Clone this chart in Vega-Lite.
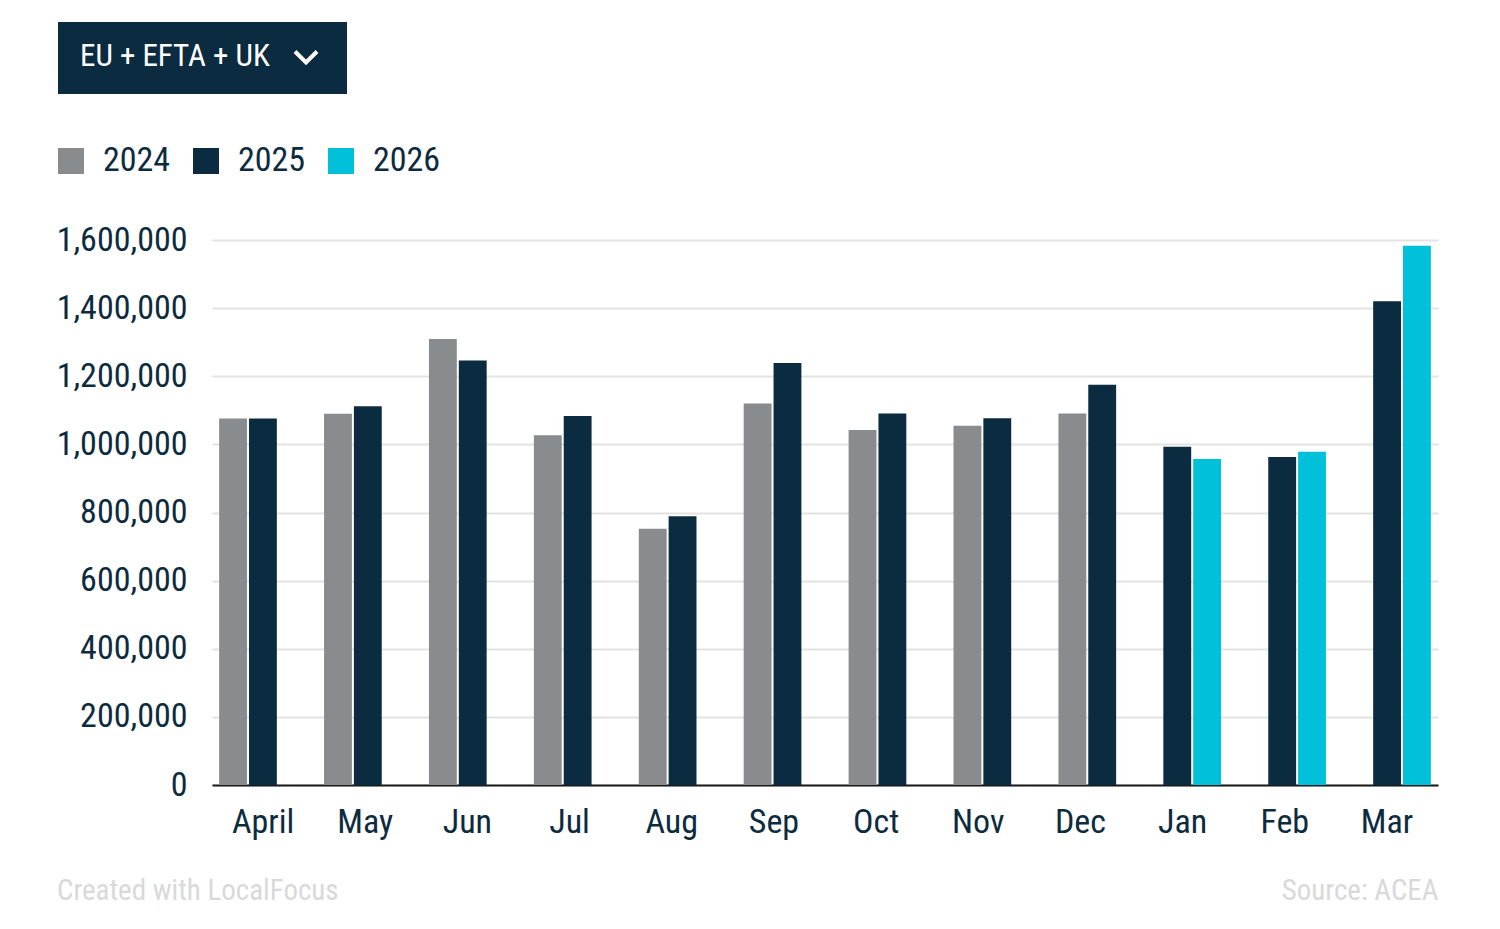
{
  "$schema": "https://vega.github.io/schema/vega-lite/v6.json",
  "autosize": {"type": "none"},
  "padding": {"left": 212, "top": 240, "right": 62, "bottom": 144},
  "width": 1226,
  "height": 545,
  "background": "white",
  "config": {
    "font": "Roboto Condensed, Liberation Sans Narrow, DejaVu Sans Condensed, Roboto",
    "view": {"stroke": null}
  },
  "title": {"text": "Created with LocalFocus", "orient": "bottom", "anchor": "start", "frame": "bounds", "fontSize": 29, "fontWeight": "normal", "color": "#d9d9d9", "offset": -28, "dx": 3},
  "data": {"values": [
    {"region": "EU + EFTA + UK", "month": "April", "year": "2024", "slot": "previous", "value": 1076000},
    {"region": "EU + EFTA + UK", "month": "April", "year": "2025", "slot": "current", "value": 1076000},
    {"region": "EU + EFTA + UK", "month": "May", "year": "2024", "slot": "previous", "value": 1090000},
    {"region": "EU + EFTA + UK", "month": "May", "year": "2025", "slot": "current", "value": 1112000},
    {"region": "EU + EFTA + UK", "month": "Jun", "year": "2024", "slot": "previous", "value": 1309000},
    {"region": "EU + EFTA + UK", "month": "Jun", "year": "2025", "slot": "current", "value": 1246000},
    {"region": "EU + EFTA + UK", "month": "Jul", "year": "2024", "slot": "previous", "value": 1027000},
    {"region": "EU + EFTA + UK", "month": "Jul", "year": "2025", "slot": "current", "value": 1083000},
    {"region": "EU + EFTA + UK", "month": "Aug", "year": "2024", "slot": "previous", "value": 752000},
    {"region": "EU + EFTA + UK", "month": "Aug", "year": "2025", "slot": "current", "value": 789000},
    {"region": "EU + EFTA + UK", "month": "Sep", "year": "2024", "slot": "previous", "value": 1120000},
    {"region": "EU + EFTA + UK", "month": "Sep", "year": "2025", "slot": "current", "value": 1239000},
    {"region": "EU + EFTA + UK", "month": "Oct", "year": "2024", "slot": "previous", "value": 1042000},
    {"region": "EU + EFTA + UK", "month": "Oct", "year": "2025", "slot": "current", "value": 1091000},
    {"region": "EU + EFTA + UK", "month": "Nov", "year": "2024", "slot": "previous", "value": 1055000},
    {"region": "EU + EFTA + UK", "month": "Nov", "year": "2025", "slot": "current", "value": 1077000},
    {"region": "EU + EFTA + UK", "month": "Dec", "year": "2024", "slot": "previous", "value": 1091000},
    {"region": "EU + EFTA + UK", "month": "Dec", "year": "2025", "slot": "current", "value": 1175000},
    {"region": "EU + EFTA + UK", "month": "Jan", "year": "2025", "slot": "previous", "value": 993000},
    {"region": "EU + EFTA + UK", "month": "Jan", "year": "2026", "slot": "current", "value": 957000},
    {"region": "EU + EFTA + UK", "month": "Feb", "year": "2025", "slot": "previous", "value": 963000},
    {"region": "EU + EFTA + UK", "month": "Feb", "year": "2026", "slot": "current", "value": 978000},
    {"region": "EU + EFTA + UK", "month": "Mar", "year": "2025", "slot": "previous", "value": 1420000},
    {"region": "EU + EFTA + UK", "month": "Mar", "year": "2026", "slot": "current", "value": 1583000}
  ]},
  "layer": [
    {
      "mark": {"type": "bar"},
      "encoding": {
        "x": {
          "field": "month", "type": "nominal", "sort": null,
          "scale": {"paddingInner": 0.45, "paddingOuter": 0.068},
          "axis": {
            "title": null, "labels": false, "ticks": false, "grid": false,
            "domainColor": "#1a1a1a", "domainWidth": 2
          }
        },
        "xOffset": {"field": "slot", "type": "nominal", "sort": ["previous", "current"], "scale": {"paddingInner": 0.067}},
        "y": {
          "field": "value", "type": "quantitative",
          "scale": {"domain": [0, 1600000], "nice": false},
          "axis": {
            "title": null, "values": [0, 200000, 400000, 600000, 800000, 1000000, 1200000, 1400000, 1600000],
            "format": ",d", "labelFontSize": 34, "labelColor": "#0d2b3e", "labelPadding": 25,
            "domain": false, "ticks": false, "gridColor": "#e3e3e3", "gridWidth": 2
          }
        },
        "color": {
          "field": "year", "type": "nominal",
          "scale": {"domain": ["2024", "2025", "2026"], "range": ["#898c8e", "#0b2b40", "#00c0da"]},
          "legend": {
            "title": null, "orient": "none", "direction": "horizontal", "legendX": -158, "legendY": -96,
            "symbolType": "square", "symbolSize": 676, "symbolStrokeWidth": 0, "symbolOpacity": 1,
            "labelFontSize": 34, "labelColor": "#0d2b3e", "labelOffset": 15, "columnPadding": 18, "padding": 0
          }
        },
        "opacity": {
          "field": "region", "type": "ordinal",
          "scale": {"range": [1, 1]},
          "legend": {
            "orient": "none", "legendX": -154, "legendY": -218, "direction": "horizontal",
            "title": "EU + EFTA + UK", "titleOrient": "left", "titleColor": "white", "titleFontSize": 31, "titleFontWeight": "normal", "titlePadding": 23, "titleLimit": 400,
            "fillColor": "#0b2b40", "padding": 22,
            "symbolType": "M-1,-0.5L0,0.5L1,-0.5", "symbolSize": 484, "symbolStrokeWidth": 4, "symbolStrokeColor": "white", "symbolFillColor": "transparent",
            "labelExpr": "''", "labelOffset": 6, "labelFontSize": 1,
            "encode": {"symbols": {"update": {"fill": {"value": "transparent"}, "stroke": {"value": "white"}, "strokeWidth": {"value": 4}, "opacity": {"value": 1}}}}
          }
        }
      }
    },
    {
      "mark": {"type": "rule", "opacity": 0},
      "encoding": {
        "x": {
          "field": "month", "type": "nominal", "sort": null,
          "scale": {"paddingInner": 0, "paddingOuter": 0},
          "axis": {
            "orient": "bottom",
            "title": "Source:  ACEA", "titleAnchor": "end", "titleAlign": "right", "titleFontSize": 29, "titleFontWeight": "normal", "titleColor": "#d9d9d9", "titlePadding": 37,
            "labelAngle": 0, "labelFontSize": 34, "labelColor": "#0d2b3e", "labelPadding": 20,
            "ticks": false, "domain": false, "grid": false
          }
        }
      }
    }
  ],
  "resolve": {"scale": {"x": "independent"}, "axis": {"x": "independent"}}
}
